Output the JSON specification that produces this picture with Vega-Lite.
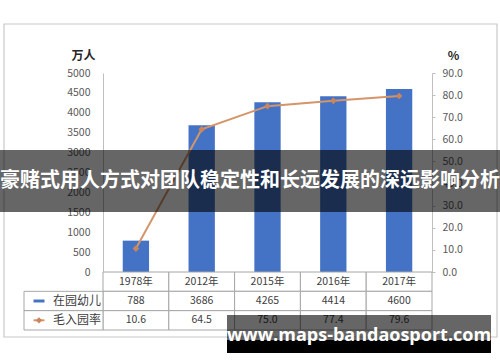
{
  "$schema": "https://vega.github.io/schema/vega-lite/v6.json",
  "width": 500,
  "height": 362,
  "autosize": "none",
  "padding": 0,
  "background": "white",
  "config": {
    "font": "Noto Sans CJK SC",
    "view": {"stroke": null},
    "axis": {"labelFont": "Noto Sans CJK SC", "titleFont": "Noto Sans CJK SC", "grid": false}
  },
  "datasets": {
    "main": [
      {"year": "1978年", "kids": 788, "rate": 10.6},
      {"year": "2012年", "kids": 3686, "rate": 64.5},
      {"year": "2015年", "kids": 4265, "rate": 75.0},
      {"year": "2016年", "kids": 4414, "rate": 77.4},
      {"year": "2017年", "kids": 4600, "rate": 79.6}
    ],
    "series": [{"series": "在园幼儿"}, {"series": "毛入园率"}],
    "banner": [{"text": "豪赌式用人方式对团队稳定性和长远发展的深远影响分析", "slot": "b"}],
    "wm": [{"text": "www.maps-bandaosport.com", "slot": "w"}],
    "frame": [{"slot": "f"}]
  },
  "layer": [
    {
      "data": {"name": "frame"},
      "mark": {"type": "rect", "fill": null, "fillOpacity": 0, "stroke": "#c8c8c8", "strokeWidth": 1.2},
      "encoding": {
        "x": {"field": "slot", "type": "nominal", "scale": {"type": "band", "domain": ["f"], "range": [4, 497], "paddingInner": 0, "paddingOuter": 0}, "axis": null},
        "y": {"field": "slot", "type": "nominal", "scale": {"type": "band", "domain": ["f"], "range": [24, 337], "paddingInner": 0, "paddingOuter": 0}, "axis": null}
      }
    },
    {
      "data": {"name": "main"},
      "layer": [
        {
          "mark": {"type": "bar", "color": "#4472c4"},
          "encoding": {
            "x": {"field": "year", "type": "nominal", "sort": null, "scale": {"type": "band", "range": [103, 432], "paddingInner": 0.6, "paddingOuter": 0.3}, "axis": null},
            "y": {
              "field": "kids", "type": "quantitative",
              "scale": {"domain": [0, 5000], "range": [272, 73], "nice": false},
              "axis": {
                "orient": "left", "offset": -103,
                "values": [0, 500, 1000, 1500, 2000, 2500, 3000, 3500, 4000, 4500, 5000],
                "format": "d", "ticks": false, "labelPadding": 13,
                "domainColor": "#bfbfbf", "labelColor": "#595959", "labelFontSize": 10.5,
                "title": "万人", "titleAngle": 0, "titleX": -20, "titleY": 55,
                "titleAlign": "center", "titleBaseline": "middle",
                "titleFontSize": 12, "titleFontWeight": "bold", "titleColor": "#262626"
              }
            }
          }
        },
        {
          "layer": [
            {
              "mark": {"type": "line", "color": "#d4956a", "strokeWidth": 2},
              "encoding": {
                "x": {"field": "year", "type": "nominal", "sort": null},
                "y": {
                  "field": "rate", "type": "quantitative",
                  "scale": {"domain": [0, 90], "range": [272, 73], "nice": false},
                  "axis": {
                    "orient": "right", "offset": -68,
                    "values": [0, 10, 20, 30, 40, 50, 60, 70, 80, 90],
                    "format": ".1f", "ticks": true, "tickSize": 3, "tickColor": "#bfbfbf",
                    "labelPadding": 7, "domainColor": "#bfbfbf", "labelColor": "#595959", "labelFontSize": 10.5,
                    "title": "%", "titleAngle": 0, "titleX": 21, "titleY": 55,
                    "titleAlign": "center", "titleBaseline": "middle",
                    "titleFontSize": 12, "titleFontWeight": "bold", "titleColor": "#262626"
                  }
                }
              }
            },
            {
              "mark": {"type": "point", "shape": "diamond", "filled": true, "size": 45, "color": "#c8855e", "opacity": 1},
              "encoding": {
                "x": {"field": "year", "type": "nominal", "sort": null},
                "y": {"field": "rate", "type": "quantitative"}
              }
            }
          ]
        }
      ],
      "resolve": {"scale": {"y": "independent"}}
    },
    {
      "data": {"name": "main"},
      "layer": [
        {
          "mark": {"type": "rect", "fill": "white", "stroke": "#a6a6a6", "strokeWidth": 1},
          "encoding": {
            "x": {"field": "year", "type": "nominal", "sort": null, "scale": {"type": "band", "range": [103, 432], "paddingInner": 0, "paddingOuter": 0}, "axis": null},
            "y": {"datum": "年份", "type": "nominal", "scale": {"type": "band", "domain": ["年份", "在园幼儿", "毛入园率"], "range": [272, 330], "paddingInner": 0, "paddingOuter": 0}, "axis": null}
          }
        },
        {
          "mark": {"type": "rect", "fill": "white", "stroke": "#a6a6a6", "strokeWidth": 1},
          "encoding": {
            "x": {"field": "year", "type": "nominal", "sort": null},
            "y": {"datum": "在园幼儿", "type": "nominal"}
          }
        },
        {
          "mark": {"type": "rect", "fill": "white", "stroke": "#a6a6a6", "strokeWidth": 1},
          "encoding": {
            "x": {"field": "year", "type": "nominal", "sort": null},
            "y": {"datum": "毛入园率", "type": "nominal"}
          }
        },
        {
          "mark": {"type": "text", "fontSize": 10.5, "color": "#404040", "baseline": "middle"},
          "encoding": {
            "x": {"field": "year", "type": "nominal", "sort": null},
            "y": {"datum": "年份", "type": "nominal"},
            "text": {"field": "year"}
          }
        },
        {
          "mark": {"type": "text", "fontSize": 10.5, "color": "#404040", "baseline": "middle"},
          "encoding": {
            "x": {"field": "year", "type": "nominal", "sort": null},
            "y": {"datum": "在园幼儿", "type": "nominal"},
            "text": {"field": "kids", "format": "d"}
          }
        },
        {
          "mark": {"type": "text", "fontSize": 10.5, "color": "#404040", "baseline": "middle"},
          "encoding": {
            "x": {"field": "year", "type": "nominal", "sort": null},
            "y": {"datum": "毛入园率", "type": "nominal"},
            "text": {"field": "rate", "format": ".1f"}
          }
        }
      ]
    },
    {
      "data": {"name": "series"},
      "layer": [
        {
          "mark": {"type": "rect", "fill": "white", "stroke": "#a6a6a6", "strokeWidth": 1},
          "encoding": {
            "x": {"datum": "lg", "type": "nominal", "scale": {"type": "band", "domain": ["lg"], "range": [24, 103], "paddingInner": 0, "paddingOuter": 0}, "axis": null},
            "y": {"field": "series", "type": "nominal", "scale": {"type": "band", "domain": ["年份", "在园幼儿", "毛入园率"], "range": [272, 330], "paddingInner": 0, "paddingOuter": 0}, "axis": null}
          }
        },
        {
          "transform": [{"filter": "datum.series == '在园幼儿'"}],
          "mark": {"type": "point", "shape": "M-1,-0.27H1V0.27H-1Z", "size": 121, "filled": true, "color": "#4472c4", "opacity": 1},
          "encoding": {
            "x": {"datum": "sym", "type": "nominal", "scale": {"type": "point", "domain": ["sym", "lab"], "range": [39, 53], "padding": 0}, "axis": null},
            "y": {"field": "series", "type": "nominal"}
          }
        },
        {
          "transform": [{"filter": "datum.series == '毛入园率'"}],
          "mark": {"type": "point", "shape": "M-1,0H1", "size": 121, "filled": false, "strokeWidth": 2, "color": "#d4956a", "opacity": 1},
          "encoding": {
            "x": {"datum": "sym", "type": "nominal", "scale": {"type": "point", "domain": ["sym", "lab"], "range": [39, 53], "padding": 0}, "axis": null},
            "y": {"field": "series", "type": "nominal"}
          }
        },
        {
          "transform": [{"filter": "datum.series == '毛入园率'"}],
          "mark": {"type": "point", "shape": "diamond", "size": 40, "filled": true, "color": "#c8855e", "opacity": 1},
          "encoding": {
            "x": {"datum": "sym", "type": "nominal", "scale": {"type": "point", "domain": ["sym", "lab"], "range": [39, 53], "padding": 0}, "axis": null},
            "y": {"field": "series", "type": "nominal"}
          }
        },
        {
          "mark": {"type": "text", "align": "left", "baseline": "middle", "fontSize": 12, "color": "#404040"},
          "encoding": {
            "x": {"datum": "lab", "type": "nominal", "scale": {"type": "point", "domain": ["sym", "lab"], "range": [39, 53], "padding": 0}, "axis": null},
            "y": {"field": "series", "type": "nominal"},
            "text": {"field": "series"}
          }
        }
      ],
      "resolve": {"scale": {"x": "independent"}}
    },
    {
      "data": {"name": "banner"},
      "layer": [
        {
          "mark": {"type": "rect", "color": "black", "opacity": 0.6},
          "encoding": {
            "x": {"field": "slot", "type": "nominal", "scale": {"type": "band", "domain": ["b"], "range": [0, 500], "paddingInner": 0, "paddingOuter": 0}, "axis": null},
            "y": {"field": "slot", "type": "nominal", "scale": {"type": "band", "domain": ["b"], "range": [150, 212], "paddingInner": 0, "paddingOuter": 0}, "axis": null}
          }
        },
        {
          "mark": {"type": "text", "color": "white", "fontSize": 20, "fontWeight": "bold", "baseline": "middle", "align": "center"},
          "encoding": {
            "x": {"field": "slot", "type": "nominal"},
            "y": {"field": "slot", "type": "nominal"},
            "text": {"field": "text"}
          }
        }
      ]
    },
    {
      "data": {"name": "wm"},
      "layer": [
        {
          "mark": {"type": "rect", "color": "black", "opacity": 0.6},
          "encoding": {
            "x": {"field": "slot", "type": "nominal", "scale": {"type": "band", "domain": ["w"], "range": [227, 491], "paddingInner": 0, "paddingOuter": 0}, "axis": null},
            "y": {"field": "slot", "type": "nominal", "scale": {"type": "band", "domain": ["w"], "range": [315, 340], "paddingInner": 0, "paddingOuter": 0}, "axis": null}
          }
        },
        {
          "mark": {"type": "rect", "color": "black", "opacity": 1},
          "encoding": {
            "x": {"field": "slot", "type": "nominal"},
            "y": {"field": "slot", "type": "nominal", "scale": {"type": "band", "domain": ["w"], "range": [340, 353], "paddingInner": 0, "paddingOuter": 0}, "axis": null}
          }
        },
        {
          "mark": {"type": "text", "color": "white", "font": "Open Sans", "fontSize": 18, "fontWeight": "bold", "baseline": "alphabetic", "align": "center"},
          "encoding": {
            "x": {"field": "slot", "type": "nominal"},
            "y": {"field": "slot", "type": "nominal", "scale": {"type": "band", "domain": ["w"], "range": [336, 346], "paddingInner": 0, "paddingOuter": 0}, "axis": null},
            "text": {"field": "text"}
          }
        }
      ],
      "resolve": {"scale": {"y": "independent"}}
    }
  ],
  "resolve": {"scale": {"x": "independent", "y": "independent"}}
}
